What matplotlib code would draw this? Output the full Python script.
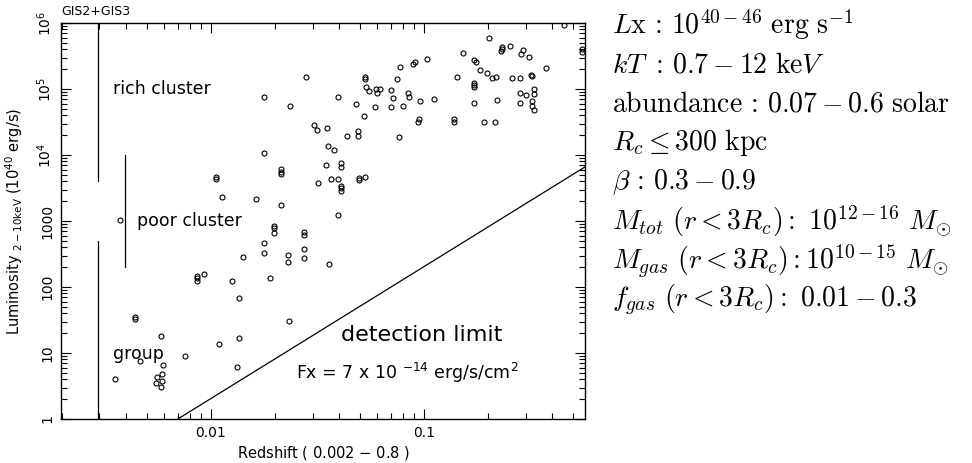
import matplotlib
matplotlib.use("Agg")
import matplotlib.pyplot as plt
from matplotlib.ticker import NullFormatter

# ASCA GIS2+GIS3 cluster sample : redshift vs luminosity (1e40 erg/s)
redshift = [
    0.454, 0.202, 0.232, 0.232, 0.230, 0.253, 0.293, 0.284, 0.311, 0.552,
    0.552, 0.153, 0.172, 0.175, 0.0893, 0.0907, 0.103, 0.0769, 0.183, 0.198,
    0.209, 0.218, 0.258, 0.281, 0.317, 0.321, 0.376, 0.143, 0.172, 0.172,
    0.172, 0.0846, 0.0848, 0.0799, 0.0961, 0.112, 0.172, 0.221, 0.281, 0.302,
    0.330, 0.330, 0.282, 0.321, 0.321, 0.328, 0.0953, 0.0940, 0.138, 0.138,
    0.191, 0.216, 0.0279, 0.0178, 0.0234, 0.0396, 0.0528, 0.0528, 0.0748, 0.0533,
    0.0555, 0.0594, 0.0623, 0.0600, 0.0704, 0.0717, 0.0481, 0.0591, 0.0704, 0.0522,
    0.0305, 0.0315, 0.0349, 0.0434, 0.0490, 0.0493, 0.0763, 0.0355, 0.0380, 0.0178,
    0.0347, 0.0409, 0.0409, 0.0213, 0.0213, 0.0213, 0.0320, 0.0368, 0.0394, 0.0409,
    0.0409, 0.0409, 0.0496, 0.0496, 0.0528, 0.0162, 0.0213, 0.0396, 0.0198, 0.0198,
    0.0198, 0.0273, 0.0273, 0.0177, 0.0177, 0.0142, 0.0229, 0.0229, 0.0274, 0.0274,
    0.0359, 0.0190, 0.0125, 0.0106, 0.0106, 0.0113, 0.00376, 0.00865, 0.00865, 0.00865,
    0.00930, 0.0136, 0.0232, 0.0136, 0.0132, 0.00441, 0.00441, 0.00584, 0.00465, 0.00753,
    0.0109, 0.00595, 0.00589, 0.00560, 0.00592, 0.00554, 0.00582, 0.00356,
]
luminosity = [
    9.3e5, 6.0e5, 4.4e5, 4.1e5, 3.8e5, 4.5e5, 3.9e5, 3.36e5, 3.05e5, 3.97e5,
    3.64e5, 3.51e5, 2.75e5, 2.59e5, 2.37e5, 2.57e5, 2.85e5, 2.12e5, 1.94e5, 1.72e5,
    1.47e5, 1.52e5, 1.48e5, 1.47e5, 1.63e5, 1.59e5, 2.06e5, 1.52e5, 1.25e5, 1.15e5,
    1.07e5, 8.7e4, 7.56e4, 5.57e4, 6.51e4, 7.0e4, 6.07e4, 6.77e4, 8.64e4, 8.11e4,
    1.0e5, 8.26e4, 6.09e4, 6.58e4, 5.57e4, 4.77e4, 3.57e4, 3.11e4, 3.49e4, 3.16e4,
    3.18e4, 3.11e4, 1.50e5, 7.64e4, 5.58e4, 7.62e4, 1.50e5, 1.42e5, 1.42e5, 1.08e5,
    9.33e4, 1.01e5, 1.0e5, 8.76e4, 9.72e4, 7.38e4, 5.89e4, 5.37e4, 5.28e4, 3.93e4,
    2.88e4, 2.38e4, 2.59e4, 1.95e4, 2.31e4, 1.94e4, 1.86e4, 1.38e4, 1.21e4, 1.08e4,
    7050, 7490, 6510, 6090, 5620, 5150, 3800, 4330, 4330, 3390,
    3130, 2880, 4560, 4210, 4590, 2150, 1720, 1220, 840, 775,
    658, 689, 624, 468, 333, 288, 307, 243, 377, 275,
    221, 139, 123, 4690, 4330, 2350, 1025, 149, 137, 125,
    156, 68.8, 30.7, 17.0, 6.03, 35.1, 33.1, 17.9, 7.65, 9.07,
    13.7, 6.63, 4.81, 4.40, 3.76, 3.57, 3.02, 4.04,
]

# detection limit Fx = 7e-14 erg/s/cm2  (L ~ z^2)
limit_z = [0.0070, 0.57]
limit_L = [1.0, 6600.0]

# class ranges drawn as vertical bars: (redshift, L low, L high)
rich_bar = (0.00295, 4000, 1e6)
poor_bar = (0.00395, 200, 1e4)
group_bar = (0.00295, 1, 500)

y_ticks = [1, 10, 100, 1000, 1e4, 1e5, 1e6]
y_ticklabels = ["1", "10", "100", "1000", r"$10^4$", r"$10^5$", r"$10^6$"]
x_ticks = [0.01, 0.1]
x_ticklabels = ["0.01", "0.1"]

params = [
    r"$L\mathrm{x}\,:\,10^{40-46}\ \mathrm{erg\ s^{-1}}$",
    r"$kT\ :\,0.7-12\ \mathrm{ke}V$",
    r"$\mathrm{abundance}\,:\,0.07-0.6\ \mathrm{solar}$",
    r"$R_c\leq 300\ \mathrm{kpc}$",
    r"$\beta\,:\,0.3-0.9$",
    r"$M_{tot}\ (r<3R_c)\mathrm{:}\ 10^{12-16}\ M_{\odot}$",
    r"$M_{gas}\ (r<3R_c)\mathrm{:}10^{10-15}\ M_{\odot}$",
    r"$f_{gas}\ (r<3R_c)\mathrm{:}\ 0.01-0.3$",
]

W, H = 972, 463
fig = plt.figure(figsize=(W / 100, H / 100), dpi=100)
ax = fig.add_axes([61 / W, 44 / H, 524 / W, 396 / H])

ax.plot(redshift, luminosity, "o", mfc="none", mec="black", ms=3.6, mew=0.8)
ax.plot(limit_z, limit_L, color="black", lw=0.9)
for z, lo, hi in (rich_bar, poor_bar, group_bar):
    ax.plot([z, z], [lo, hi], color="black", lw=0.9)

ax.set_xscale("log")
ax.set_yscale("log")
ax.set_xlim(0.00198, 0.57)
ax.set_ylim(1, 1e6)

ax.set_xticks(x_ticks)
ax.set_xticklabels(x_ticklabels, fontsize=10)
ax.xaxis.set_minor_formatter(NullFormatter())
ax.set_yticks(y_ticks)
ax.set_yticklabels(y_ticklabels, fontsize=10, rotation=90, va="center")
ax.yaxis.set_minor_formatter(NullFormatter())
ax.tick_params(which="both", direction="in", top=True, right=True, width=0.8)
ax.tick_params(which="major", length=7, pad=5)
ax.tick_params(which="minor", length=4)
for sp in ax.spines.values():
    sp.set_linewidth(1.0)

ax.set_xlabel("Redshift ( 0.002 $-$ 0.8 )", fontsize=10.5)
ax.xaxis.set_label_coords(0.5, -0.063)
ax.set_ylabel(r"Luminosity $_{\rm 2-10keV}$ (10$^{40}$ erg/s)", fontsize=10.5)
ax.yaxis.set_label_coords(-0.068, 0.5)

ax.text(0, 1.012, "GIS2+GIS3", transform=ax.transAxes, fontsize=9, va="bottom")
ax.text(0.00347, 1e5, "rich cluster", fontsize=12.5, va="center")
ax.text(0.0045, 1000, "poor cluster", fontsize=12.5, va="center")
ax.text(0.00347, 9.5, "group", fontsize=12.5, va="center")
ax.text(0.0408, 18.7, "detection limit", fontsize=16, va="center")
ax.text(0.0251, 5.0, r"Fx = 7 x 10 $^{-14}$ erg/s/cm$^2$", fontsize=12.5, va="center")

# parameter ranges on the right, in TeX style
for i, s in enumerate(params):
    y = 25 + i * 39.3
    fig.text(612 / W, 1 - y / H, s, fontsize=20, va="center", math_fontfamily="cm")

fig.savefig("out.png", dpi=100)
